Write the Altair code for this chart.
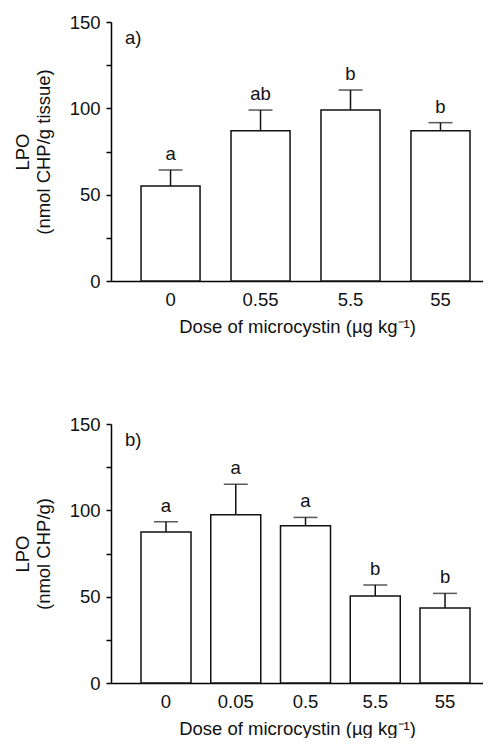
import altair as alt
import pandas as pd

# Panel a)
doses_a = ["0", "0.55", "5.5", "55"]
means_a = [55.0, 87.0, 99.0, 87.0]
upper_a = [64.3, 99.0, 110.6, 91.7]
letters_a = ["a", "ab", "b", "b"]

# Panel b)
doses_b = ["0", "0.05", "0.5", "5.5", "55"]
means_b = [87.4, 97.5, 91.1, 50.4, 43.4]
upper_b = [93.4, 115.1, 95.9, 56.8, 51.9]
letters_b = ["a", "a", "a", "b", "b"]

y_ticks = [0, 25, 50, 75, 100, 125, 150]
FONT = "Liberation Sans"
FS = 18.5
W = 372
H = 259


def panel(doses, means, upper, letters, tag, ytitle, pad_inner, pad_outer, align):
    df = pd.DataFrame({"dose": doses, "mean": means, "upper": upper, "letter": letters})
    xenc = alt.X(
        "dose:N",
        sort=doses,
        scale=alt.Scale(paddingInner=pad_inner, paddingOuter=pad_outer, align=align),
        axis=alt.Axis(
            title="Dose of microcystin (µg kg⁻¹)",
            labelAngle=0,
            ticks=False,
            labelPadding=9,
            titlePadding=9,
            domainColor="black",
            domainWidth=1.5,
        ),
    )
    yscale = alt.Scale(domain=[0, 150], nice=False)
    base = alt.Chart(df)
    bars = base.mark_bar(fill="white", stroke="#111", strokeWidth=1.5).encode(
        x=xenc,
        y=alt.Y(
            "mean:Q",
            scale=yscale,
            axis=alt.Axis(
                title=ytitle,
                values=y_ticks,
                labelExpr="datum.value % 50 == 0 ? datum.label : ''",
                grid=False,
                tickSize=5,
                tickColor="black",
                tickWidth=1.5,
                domainColor="black",
                domainWidth=1.5,
                labelPadding=6,
                titlePadding=16,
            ),
        ),
    )
    err = base.mark_rule(color="#111", strokeWidth=1.5).encode(
        x=alt.X("dose:N", sort=doses), y="mean:Q", y2="upper:Q"
    )
    cap = base.mark_tick(color="#111", thickness=1.5, size=24, orient="horizontal").encode(
        x=alt.X("dose:N", sort=doses), y="upper:Q"
    )
    txt = base.mark_text(font=FONT, fontSize=FS, baseline="middle", dy=-16, color="#111").encode(
        x=alt.X("dose:N", sort=doses), y="upper:Q", text="letter:N"
    )
    tag_df = pd.DataFrame({"t": [tag]})
    tagmark = alt.Chart(tag_df).mark_text(
        font=FONT, fontSize=FS, align="left", baseline="middle", color="#111"
    ).encode(x=alt.value(14), y=alt.value(16), text="t:N")
    return alt.layer(bars, err, cap, txt, tagmark).properties(width=W, height=H)


top = panel(doses_a, means_a, upper_a, letters_a, "a)",
            ["LPO", "(nmol CHP/g tissue)"], 0.344, 0.239, 0.698)
bottom = panel(doses_b, means_b, upper_b, letters_b, "b)",
               ["LPO", "(nmol CHP/g)"], 0.283, 0.308, 0.698)

chart = alt.vconcat(top, bottom, spacing=79).properties(
    padding={"left": 5, "top": 5, "right": 0, "bottom": 0}
).configure_view(stroke=None).configure_axis(
    labelFont=FONT, titleFont=FONT, labelFontSize=FS, titleFontSize=FS,
    labelColor="#111", titleColor="#111", titleFontWeight="normal",
)

chart.save("out.html", embed_options={"renderer": "svg", "actions": False})
